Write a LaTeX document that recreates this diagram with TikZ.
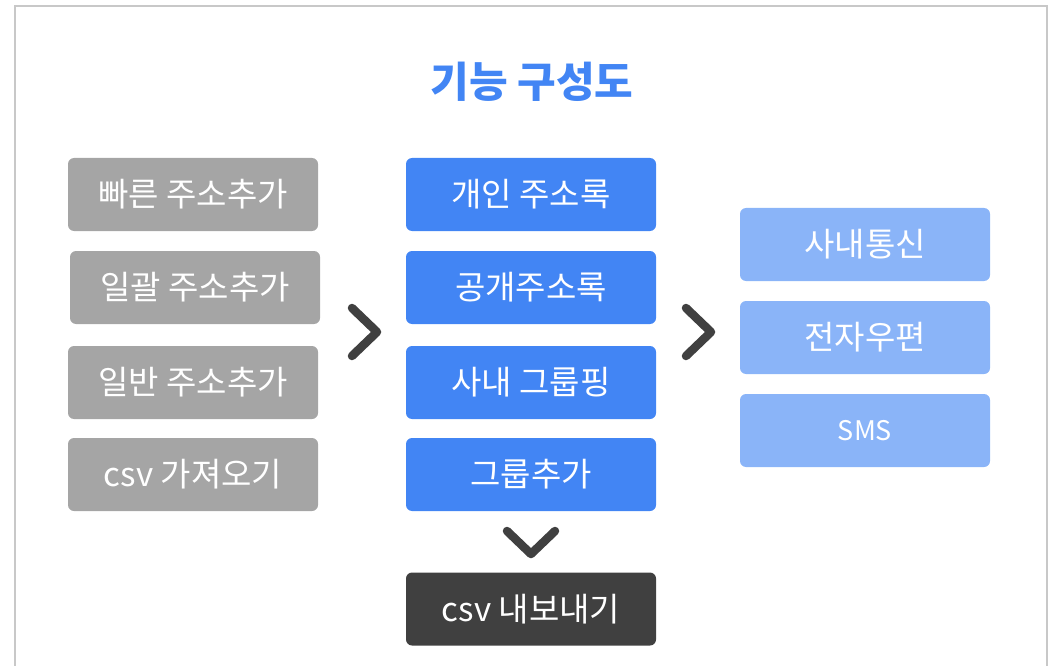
\documentclass[tikz,border=0pt]{standalone}
\usepackage{fontspec}
\setmainfont{Noto Sans CJK KR}
\definecolor{gbox}{HTML}{A5A5A5}
\definecolor{bbox}{HTML}{4285F4}
\definecolor{lbox}{HTML}{8AB4F8}
\definecolor{dbox}{HTML}{404040}
\definecolor{frame}{HTML}{C8C8C8}
\begin{document}
\begin{tikzpicture}[x=1pt,y=-1pt,
  box/.style={rounded corners=6pt, minimum width=250pt, minimum height=73pt, inner sep=0pt,
    text=white, font=\fontsize{33}{36}\selectfont},
  gray box/.style={box, fill=gbox},
  blue box/.style={box, fill=bbox},
  light box/.style={box, fill=lbox},
  dark box/.style={box, fill=dbox},
  chev/.style={draw=dbox, line width=8.5pt, line cap=round, line join=round}]
\useasboundingbox (0,0) rectangle (1053,666);
\draw[frame, line width=1.5pt] (15,680) -- (15,6) -- (1047,6) -- (1047,680);
\node[text=bbox, font=\fontsize{42}{46}\selectfont\bfseries] (title) at (532,82) {기능 구성도};
% left column
\node[gray box] (l1) at (193,194.5) {빠른 주소추가};
\node[gray box] (l2) at (195,287.5) {일괄 주소추가};
\node[gray box] (l3) at (193,382.5) {일반 주소추가};
\node[gray box] (l4) at (193,474.5) {csv 가져오기};
% middle column
\node[blue box] (m1) at (531,194.5) {개인 주소록};
\node[blue box] (m2) at (531,287.5) {공개주소록};
\node[blue box] (m3) at (531,382.5) {사내 그룹핑};
\node[blue box] (m4) at (531,474.5) {그룹추가};
\node[dark box] (m5) at (531,609) {csv 내보내기};
% right column
\node[light box] (r1) at (865,244.5) {사내통신};
\node[light box] (r2) at (865,337.5) {전자우편};
\node[light box, font=\fontsize{27}{30}\selectfont] (r3) at (865,430.5) {SMS};
% chevrons
\coordinate (c1a) at (352,308); \coordinate (c1b) at (377,332); \coordinate (c1c) at (352,356);
\draw[chev] (c1a) -- (c1b) -- (c1c);
\coordinate (c2a) at (686,308); \coordinate (c2b) at (711,332); \coordinate (c2c) at (686,356);
\draw[chev] (c2a) -- (c2b) -- (c2c);
\coordinate (c3a) at (507,531); \coordinate (c3b) at (531,554); \coordinate (c3c) at (555,531);
\draw[chev] (c3a) -- (c3b) -- (c3c);
\end{tikzpicture}
\end{document}
